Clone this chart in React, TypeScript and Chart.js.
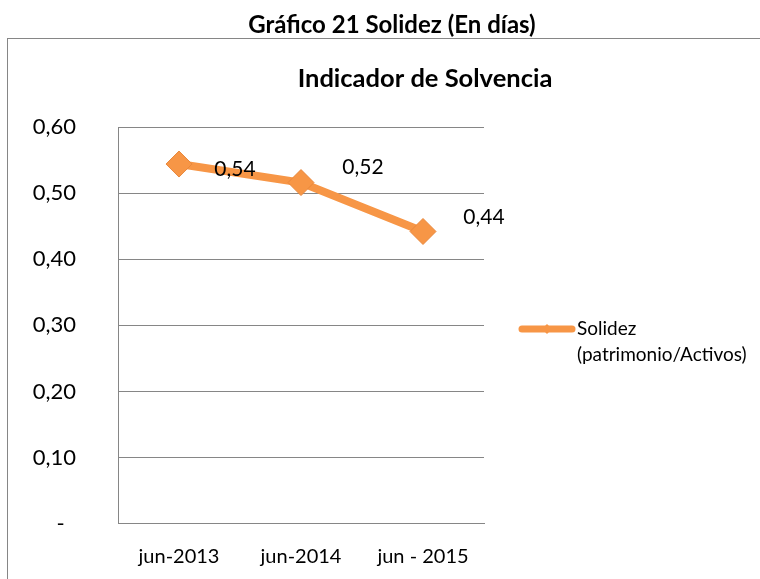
import { useEffect, useRef } from "react";
import { Chart, registerables } from "chart.js";

Chart.register(...registerables);

const categories = ["jun-2013", "jun-2014", "jun - 2015"];
const solidez = [0.544, 0.516, 0.442];
const seriesLabel = ["Solidez", "(patrimonio/Activos)"];
const outerTitle = "Gráfico 21 Solidez (En días)";
const innerTitle = "Indicador de Solvencia";
const yMin = 0;
const yMax = 0.6;
const yStep = 0.1;

const ORANGE = "#F79646";
const GRID = "#868686";
const TEXT = "#000000";
const FONT = "Lato, 'Open Sans', sans-serif";

const fmt = (v: number) => (Math.abs(v) < 1e-9 ? "-" : v.toFixed(2).replace(".", ","));

const decorPlugin = {
  id: "decor",
  beforeDraw(chart: any) {
    const ctx = chart.ctx;
    ctx.save();
    ctx.fillStyle = "#ffffff";
    ctx.fillRect(0, 0, chart.width, chart.height);
    // outer box
    ctx.strokeStyle = GRID;
    ctx.lineWidth = 1;
    ctx.strokeRect(7.5, 38.5, chart.width + 10, chart.height + 10);
    // titles
    ctx.fillStyle = TEXT;
    ctx.textAlign = "center";
    ctx.textBaseline = "middle";
    ctx.font = `bold 24px ${FONT}`;
    ctx.fillText(outerTitle, 392, 25);
    ctx.font = `bold 25.5px ${FONT}`;
    ctx.fillText(innerTitle, 425, 79);
    ctx.restore();
  },
  afterDatasetsDraw(chart: any) {
    const ctx = chart.ctx;
    const meta = chart.getDatasetMeta(0);
    const offsets = [
      [56, 5],
      [62, -15],
      [61, -14],
    ];
    ctx.save();
    ctx.fillStyle = TEXT;
    ctx.font = `21px ${FONT}`;
    ctx.textAlign = "center";
    ctx.textBaseline = "middle";
    meta.data.forEach((pt: any, i: number) => {
      const v = chart.data.datasets[0].data[i] as number;
      const [dx, dy] = offsets[i] || [56, -10];
      ctx.fillText(fmt(v), pt.x + dx, pt.y + dy);
    });
    ctx.restore();
  },
  afterDraw(chart: any) {
    const ctx = chart.ctx;
    const ds = chart.data.datasets[0];
    const y = 329;
    ctx.save();
    ctx.strokeStyle = ds.borderColor;
    ctx.lineWidth = 7;
    ctx.lineCap = "round";
    ctx.beginPath();
    ctx.moveTo(522, y);
    ctx.lineTo(572, y);
    ctx.stroke();
    ctx.fillStyle = ds.borderColor;
    ctx.beginPath();
    ctx.moveTo(547 - 5, y);
    ctx.lineTo(547, y - 5);
    ctx.lineTo(547 + 5, y);
    ctx.lineTo(547, y + 5);
    ctx.closePath();
    ctx.fill();
    ctx.fillStyle = TEXT;
    ctx.font = `19px ${FONT}`;
    ctx.textAlign = "left";
    ctx.textBaseline = "middle";
    const lines = ds.label as string[];
    lines.forEach((t: string, i: number) => ctx.fillText(t, 577, y + i * 26));
    ctx.restore();
  },
};

export default function App() {
  const ref = useRef<HTMLCanvasElement | null>(null);
  useEffect(() => {
    if (!ref.current) return;
    const chart = new Chart(ref.current, {
      type: "line",
      data: {
        labels: categories,
        datasets: [
          {
            label: seriesLabel as any,
            data: solidez,
            borderColor: ORANGE,
            backgroundColor: ORANGE,
            borderWidth: 8,
            pointStyle: "rectRot",
            pointRadius: 13,
            pointBackgroundColor: ORANGE,
            pointBorderColor: "#E9883C",
            pointBorderWidth: 1,
            tension: 0,
          },
        ],
      },
      options: {
        responsive: false,
        animation: false,
        events: [],
        layout: { padding: { left: 0, top: 127, right: 276, bottom: 0 } },
        plugins: {
          legend: { display: false },
          title: { display: false },
          tooltip: { enabled: false },
        },
        scales: {
          x: {
            offset: true,
            grid: { display: false, drawTicks: false },
            border: { display: true, color: GRID, width: 1 },
            ticks: { color: TEXT, font: { family: FONT, size: 20 }, padding: 21 },
            afterFit: (s: any) => {
              s.height = 54;
            },
          },
          y: {
            min: yMin,
            max: yMax,
            grid: { color: GRID, lineWidth: 1, drawTicks: false },
            border: { display: true, color: GRID, width: 1 },
            ticks: {
              stepSize: yStep,
              color: TEXT,
              font: { family: FONT, size: 22 },
              padding: 42,
              callback: (v: any) => (Math.abs(Number(v)) < 1e-9 ? "-  " : fmt(Number(v))),
            },
            afterFit: (s: any) => {
              s.width = 118;
            },
          },
        },
      },
      plugins: [decorPlugin],
    });
    return () => chart.destroy();
  }, []);
  return (
    <canvas
      ref={ref}
      width={760}
      height={579}
      style={{ position: "absolute", left: 0, top: 0, width: 760, height: 579 }}
    />
  );
}
